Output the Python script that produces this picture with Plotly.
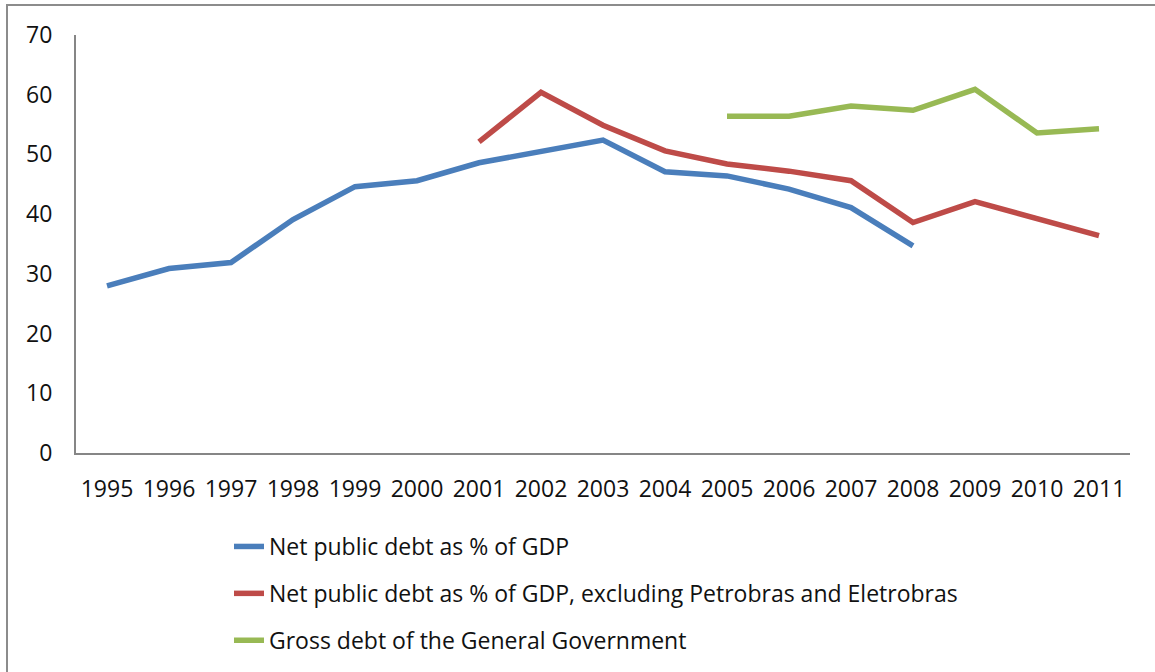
import plotly.graph_objects as go

years = [str(y) for y in range(1995, 2012)]
net_debt = [28.0, 30.9, 31.9, 39.1, 44.6, 45.6, 48.6, 50.4, 52.4, 47.1, 46.4, 44.2, 41.1, 34.7,
            None, None, None]
net_debt_ex = [None, None, None, None, None, None, 52.1, 60.4, 54.9, 50.6, 48.4, 47.2, 45.6, 38.6,
               42.1, 39.2, 36.4]
gross_debt = [None] * 10 + [56.4, 56.4, 58.1, 57.4, 60.9, 53.6, 54.3]

names = ["Net public debt as % of GDP",
         "Net public debt as % of GDP, excluding Petrobras and Eletrobras",
         "Gross debt of the General Government"]
colors = ["#4A7EBB", "#BE4B48", "#98B954"]
series = [net_debt, net_debt_ex, gross_debt]

W, H = 1155, 672
L, R, T, B = 76, 25, 35, 219
pw, ph = W - L - R, H - T - B

fig = go.Figure()
for i, (nm, col, vals) in enumerate(zip(names, colors, series)):
    fig.add_trace(go.Scatter(x=years, y=vals, mode="lines", name=nm,
                             line=dict(color=col, width=5.5), connectgaps=False,
                             legendgroup=f"g{i}"))

font = "Open Sans, Noto Sans, sans-serif"
fig.update_layout(
    width=W, height=H,
    margin=dict(l=L, r=R, t=T, b=B, autoexpand=False),
    paper_bgcolor="white", plot_bgcolor="white",
    font=dict(family=font, size=23, color="#111111"),
    showlegend=True,
    legend=dict(xref="container", yref="container",
                x=229 / W, y=1 - 525 / H, xanchor="left", yanchor="top",
                bgcolor="rgba(0,0,0,0)", borderwidth=0, tracegroupgap=14,
                font=dict(family=font, size=23, color="#111111"),
                itemwidth=30),
    xaxis=dict(type="category", showgrid=False, showline=True, linecolor="#868686",
               linewidth=2, ticks="", ticklabelstandoff=14, zeroline=False,
               range=[-0.5, 16.5]),
    yaxis=dict(range=[0, 70], dtick=10, showgrid=False, showline=True, linecolor="#868686",
               linewidth=2, ticks="", ticklabelstandoff=17, zeroline=False),
    shapes=[dict(type="rect", xref="paper", yref="paper",
                 x0=(7 - L) / pw, x1=(1170 - L) / pw,
                 y0=-(690 - (H - B)) / ph, y1=((H - B) - 5) / ph,
                 line=dict(color="#8C8C8C", width=2), fillcolor="rgba(0,0,0,0)", layer="below")],
)

fig.write_html("out.html")
